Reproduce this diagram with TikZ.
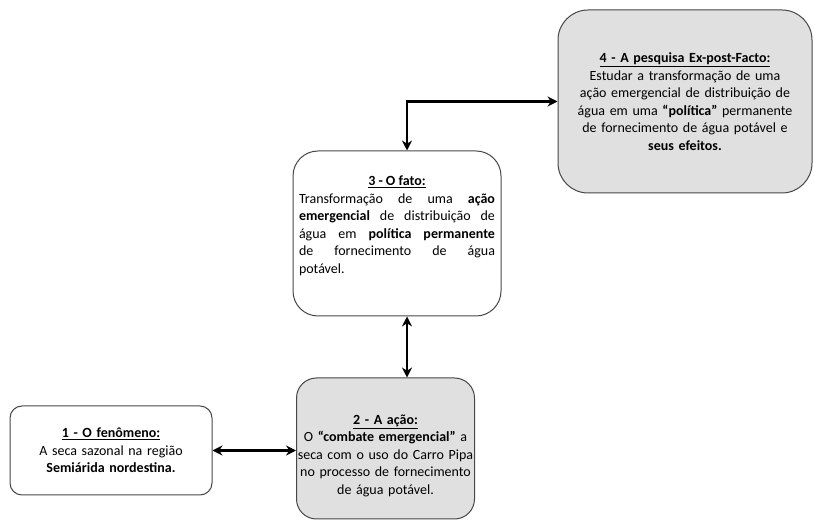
\documentclass[tikz,border=0pt]{standalone}
\usepackage{fontspec}
\setmainfont{Carlito}
\usetikzlibrary{arrows.meta}
\definecolor{boxgray}{RGB}{224,224,224}
\definecolor{boxline}{RGB}{70,70,70}
\tikzset{
  box/.style={draw=boxline, line width=1pt, rounded corners=#1, inner sep=0pt,
    font=\fontsize{14}{17.5}\selectfont},
  link/.style={line width=2.4pt, {Stealth[length=10pt,width=10pt]}-{Stealth[length=10pt,width=10pt]}}
}
\begin{document}
\begin{tikzpicture}[x=1pt, y=1pt]
    \useasboundingbox (0,0) rectangle (814,522);
    \coordinate (ax) at (407,0); % x of the vertical arrows
    \node[box=12pt, minimum width=202pt, minimum height=89pt, text width=190pt, align=center] (fen) at (111,71.5)
        {\underline{\textbf{1 - O fenômeno:}}\\ A seca sazonal na região\\ \textbf{Semiárida nordestina.}};
    \node[box=20pt, fill=boxgray, minimum width=177pt, minimum height=141pt, text width=178pt, align=center] (acao) at (385.5,73.5)
        {\mbox{}\\[6pt]\underline{\textbf{2 - A ação:}}\\ O \textbf{“combate emergencial”} a\\ seca com o uso do Carro Pipa\\ no processo de fornecimento\\ de água potável.};
    \node[box=25pt, minimum width=208pt, minimum height=165pt, text width=196pt, align=justify] (fato) at (397,288.5)
        {{\centering\underline{\textbf{3 - O fato:}}\par}
         Transformação de uma \textbf{ação}\linebreak \textbf{emergencial} de distribuição de\linebreak
         água em \textbf{política permanente}\linebreak de fornecimento de água\linebreak potável.\par\mbox{}};
    \node[box=30pt, fill=boxgray, minimum width=254pt, minimum height=183pt, text width=244pt, align=center] (pesq) at (685,420.5)
        {\underline{\textbf{4 - A pesquisa Ex-post-Facto:}}\\ Estudar a transformação de uma\\ ação emergencial de distribuição de\\
         água em uma \textbf{“política”} permanente\\ de fornecimento de água potável e\\ \textbf{seus efeitos.}};
    \draw[link] (fen.east) -- (acao.west |- fen.east);
    \draw[link] (acao.north -| ax) -- (fato.south -| ax);
    \draw[link, rounded corners=0pt] (fato.north -| ax) |- (pesq.west); % elbow to box 4
\end{tikzpicture}
\end{document}
